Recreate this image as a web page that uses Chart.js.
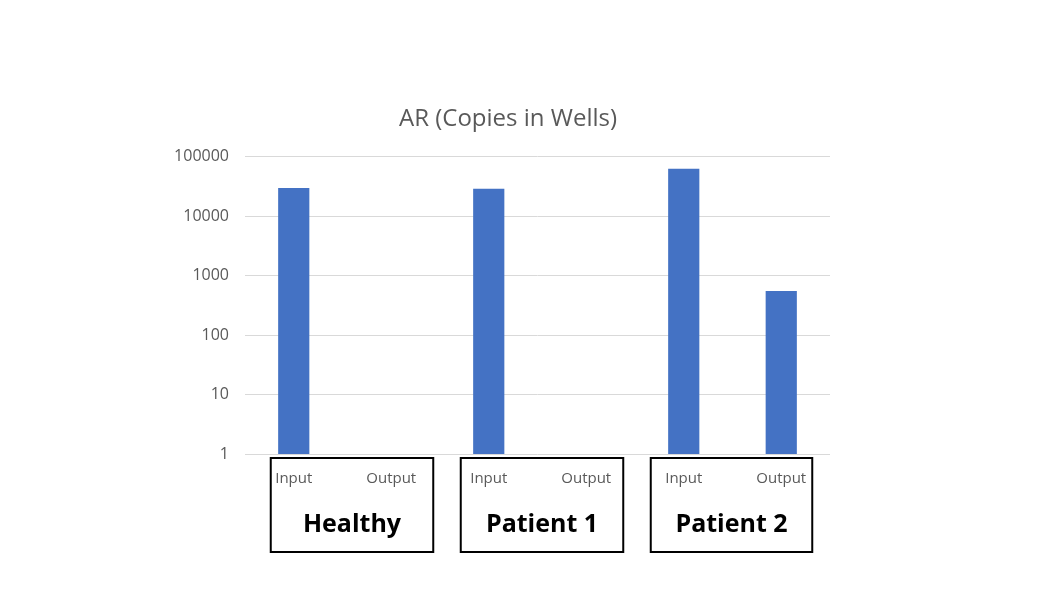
<!DOCTYPE html>
<html>
<head>
<meta charset="utf-8">
<script src="https://cdn.jsdelivr.net/npm/chart.js@4/dist/chart.umd.min.js"></script>
<style>
  html, body { margin: 0; padding: 0; background: #fff; }
  #wrap { width: 1042px; height: 606px; position: relative; }
</style>
</head>
<body>
<div id="wrap"><canvas id="chart"></canvas></div>
<script>
// data
const categories = ["Input", "Output", "Input", "Output", "Input", "Output"];
const groups = ["Healthy", "Patient 1", "Patient 2"];
const copies = [30000, null, 29000, null, 63000, 550];
const yTicks = [1, 10, 100, 1000, 10000, 100000];

// box edges relative to the input / output bar centres
const boxLeft = [-23, -28, -33];
const boxRight = [42, 37, 31];

// draws the black boxes with the group names under each input/output pair
const groupBoxes = {
  id: "groupBoxes",
  afterLayout(chart) {
    // title in the original sits a bit left of the plot centre
    if (chart.titleBlock) chart.titleBlock.left += 36;
  },
  afterDraw(chart) {
    const ctx = chart.ctx;
    const x = chart.scales.x;
    const top = chart.chartArea.bottom + 4;
    ctx.save();
    groups.forEach((name, i) => {
      const left = x.getPixelForValue(i * 2) + boxLeft[i];
      const right = x.getPixelForValue(i * 2 + 1) + boxRight[i];
      ctx.strokeStyle = "#000";
      ctx.lineWidth = 2;
      ctx.strokeRect(left, top, right - left, 94);
      ctx.fillStyle = "#000";
      ctx.font = "bold 25px 'Open Sans'";
      ctx.textAlign = "center";
      ctx.textBaseline = "middle";
      ctx.fillText(name, (left + right) / 2, top + 67);
    });
    ctx.restore();
  }
};

const ctx = document.getElementById("chart").getContext("2d");
new Chart(ctx, {
  type: "bar",
  data: {
    labels: categories,
    datasets: [{
      data: copies,
      backgroundColor: "#4472C4",
      barPercentage: 1,
      categoryPercentage: 0.32
    }]
  },
  options: {
    responsive: true,
    maintainAspectRatio: false,
    animation: false,
    layout: { padding: { left: 150, right: 212, top: 105, bottom: 0 } },
    plugins: {
      legend: { display: false },
      tooltip: { enabled: false },
      title: {
        display: true,
        text: "AR (Copies in Wells)",
        color: "#595959",
        font: { family: "'Open Sans'", size: 24, weight: "normal" },
        padding: { top: 0, bottom: 23 }
      }
    },
    scales: {
      x: {
        grid: { display: false },
        border: { display: false },
        ticks: {
          color: "#595959",
          font: { family: "'Open Sans'", size: 15 },
          padding: 8,
          maxRotation: 0
        },
        afterFit(scale) { scale.height = 152; }
      },
      y: {
        type: "logarithmic",
        min: 1,
        max: 100000,
        grid: { color: "#d9d9d9", drawTicks: false },
        border: { display: false },
        afterBuildTicks(scale) {
          scale.ticks = yTicks.map(v => ({ value: v }));
        },
        ticks: {
          color: "#595959",
          font: { family: "'Open Sans'", size: 16 },
          padding: 16,
          callback: v => String(v)
        },
        afterFit(scale) { scale.width = 95; }
      }
    }
  },
  plugins: [groupBoxes]
});
</script>
</body>
</html>
